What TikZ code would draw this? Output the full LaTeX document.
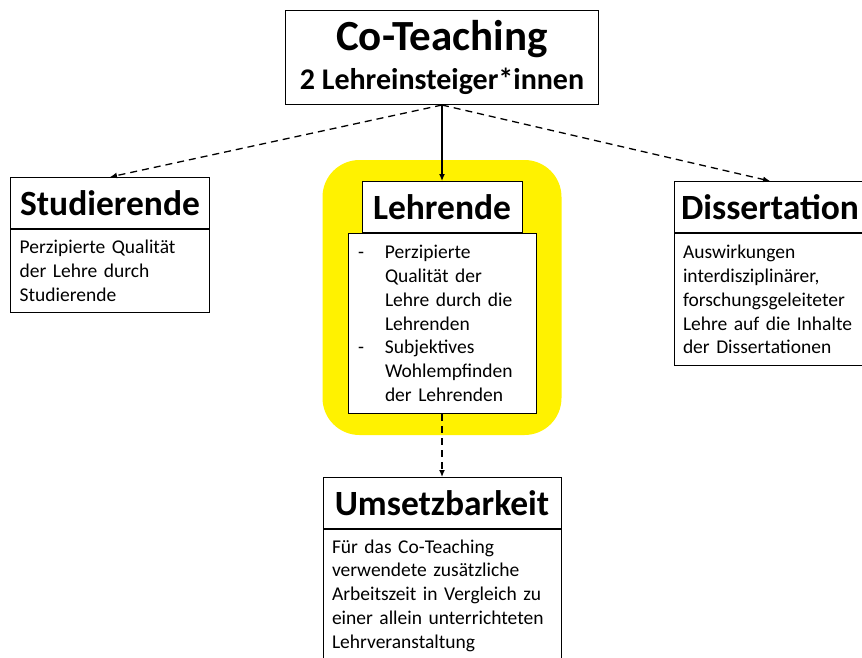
\documentclass[tikz,border=0pt]{standalone}
\usepackage{fontspec}
\setmainfont{Carlito}
\usetikzlibrary{arrows.meta,positioning,fit,backgrounds}
\tikzset{headbox/.style={draw=black,fill=white,line width=1pt,minimum height=51pt,inner sep=0pt,
   font=\fontsize{35.5}{40}\selectfont\bfseries},
 textbox/.style={draw=black,fill=white,line width=1pt,anchor=north,align=left,inner xsep=9pt,
   inner ysep=8pt,font=\fontsize{19.5}{23.8}\selectfont},
 mainlink/.style={-{Latex[length=7pt,width=6pt]},line width=1.3pt},
 sidelink/.style={mainlink,dash pattern=on 7pt off 5pt},
 highlight/.style={fill=yellow,rounded corners=37pt,inner xsep=25pt,inner ysep=21pt},
 }

\begin{document}
\begin{tikzpicture}[x=1pt,y=-1pt]
        \useasboundingbox (0,0) rectangle (862,657);
        \clip (0,0) rectangle (862,657);
        \node[draw=black,fill=white,line width=1pt,minimum width=313pt,minimum height=94pt,align=center,
            font=\fontsize{30}{39.5}\selectfont\bfseries] (coteach) at (442,57.5)
            {{\fontsize{43}{44}\selectfont Co-Teaching}\\2 Lehreinsteiger*innen};
        \node[headbox,minimum width=198.5pt] (stud) at (110,203) {Studierende};
        \node[textbox,text width=180.5pt,minimum height=83pt] (studbody) at (stud.south)
            {Perzipierte Qualität\\der Lehre durch\\Studierende};
        \node[headbox,minimum width=160pt] (lehr) at (442,207) {Lehrende};
        \node[textbox,inner xsep=10pt,text width=168pt,minimum height=180pt] (lehrbody) at (lehr.south)
            {\makebox[27pt][l]{-}Perzipierte\\\hspace*{27pt}Qualität der\\\hspace*{27pt}Lehre durch die\\
             \hspace*{27pt}Lehrenden\\\makebox[27pt][l]{-}Subjektives\\\hspace*{27pt}Wohlempfinden\\
             \hspace*{27pt}der Lehrenden};
        \node[headbox,minimum width=192pt] (diss) at (770,207) {Dissertation};
        \node[textbox,text width=174pt,minimum height=132pt] (dissbody) at (diss.south)
            {Auswirkungen\\interdisziplinärer,\\forschungsgeleiteter\\Lehre auf die Inhalte\\der Dissertationen};
        \node[headbox,minimum width=238pt] (umsetz) at (442,503) {Umsetzbarkeit};
        \node[textbox,text width=220pt,inner ysep=10pt] (umsetzbody) at (umsetz.south)
            {Für das Co-Teaching\\verwendete zusätzliche\\Arbeitszeit in Vergleich zu\\einer allein unterrichteten\\Lehrveranstaltung};
        \begin{scope}[on background layer]
            \node[highlight,fit=(lehr)(lehrbody)] (hl) {};
        \end{scope}
        \draw[mainlink] (coteach.south) -- (lehr.north);
        \draw[sidelink] (coteach.south) -- (stud.north);
        \draw[sidelink] (coteach.south) -- (diss.north);
        \draw[sidelink] (lehrbody.south) -- (umsetz.north);
    \end{tikzpicture}
\end{document}
